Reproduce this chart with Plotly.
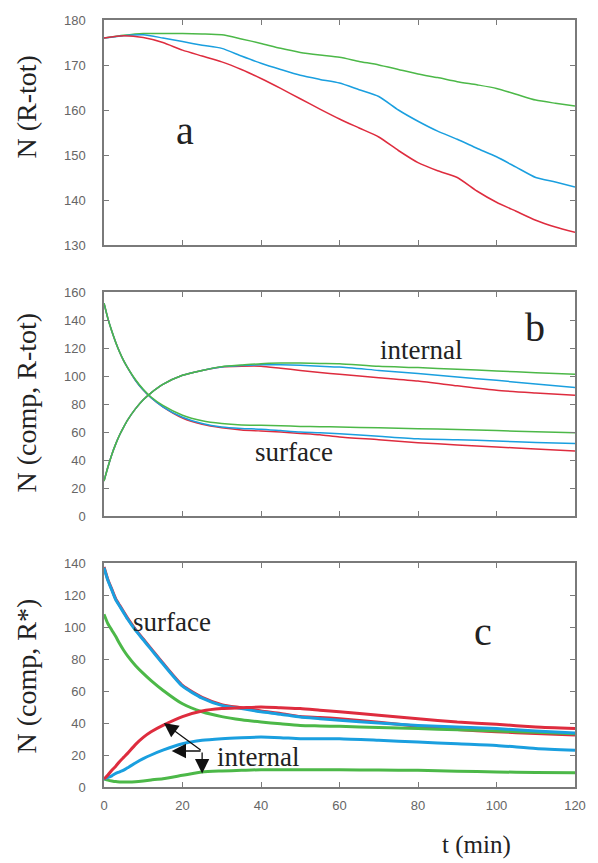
import plotly.graph_objects as go
from plotly.subplots import make_subplots

# ---------------- data ----------------
# panel a : N (R-tot)
t_a = [0, 5, 10, 15, 20, 25, 30, 35, 40, 45, 50, 55, 60, 65, 70, 75, 80, 85, 90, 95, 100, 105, 110, 115, 120]
a_red = [176, 176.5, 176.1, 175, 173.3, 172, 170.7, 169, 167, 164.8, 162.5, 160.2, 158, 156, 154, 151, 148.3, 146.5, 145, 142, 139.5, 137.5, 135.5, 134, 132.8]
a_blue = [176, 176.5, 176.7, 176, 175.2, 174.4, 173.7, 172, 170.4, 169, 167.7, 166.8, 166, 164.5, 163, 160, 157.5, 155.3, 153.5, 151.5, 149.6, 147.3, 145, 144, 142.9]
a_green = [176, 176.6, 177, 177, 177, 176.9, 176.7, 175.8, 174.8, 173.7, 172.8, 172.2, 171.7, 170.8, 170, 169, 168, 167.2, 166.3, 165.6, 164.8, 163.5, 162.2, 161.5, 160.9]

# panel b : N (comp, R-tot)
t_b = [0, 1, 2, 3, 4, 5, 6, 8, 10, 12, 15, 20, 25, 30, 35, 40, 45, 50, 55, 60, 70, 80, 90, 100, 110, 120]
b_surf_red = [152, 141, 132, 124, 117, 111, 106, 97, 90, 84.5, 78, 70, 65.5, 63, 61.5, 60.7, 60, 59, 58, 56.4, 54.5, 52.4, 50.8, 49.3, 47.8, 46.4]
b_surf_blue = [152, 141, 132, 124, 117, 111, 106, 97, 90, 84.5, 78, 70.5, 66, 63.5, 62.5, 62, 61, 60, 59.5, 58.8, 57, 55.2, 54.5, 53.6, 52.5, 51.7]
b_surf_green = [152, 141, 132, 124, 117, 111, 106, 97.5, 90.5, 85, 79, 72, 68, 66, 65, 64.8, 64.5, 64, 63.8, 63.6, 63, 62.4, 61.8, 61, 60.2, 59.5]
b_int_red = [25, 35, 44, 51.5, 58, 63.5, 68.5, 76.5, 83, 88, 94, 100.5, 104, 106.5, 107, 107, 105.5, 104, 102.5, 101.2, 98.8, 96.4, 93, 89.8, 87.9, 86.2]
b_int_blue = [25, 35, 44, 51.5, 58, 63.5, 68.5, 76.5, 83, 88, 94, 100.5, 104, 106.5, 107.5, 108, 108, 107.6, 107, 106.4, 104, 101.7, 99.3, 96.9, 94.3, 91.7]
b_int_green = [25, 35, 44, 51.5, 58, 63.5, 68.5, 76.5, 83, 88, 94, 100.5, 104, 106.7, 107.8, 108.8, 109.2, 109.3, 109, 108.8, 106.9, 106, 104.8, 103.6, 102.4, 101.2]

# panel c : N (comp, R*)
t_c = [0, 1, 2, 3, 4, 5, 6, 8, 10, 12, 15, 20, 25, 30, 35, 40, 45, 50, 55, 60, 70, 80, 90, 100, 110, 120]
c_surf_red = [137.5, 129.5, 123.5, 117.5, 113.5, 109.5, 105.5, 98.5, 92.5, 86.5, 77.5, 63.5, 56, 51.5, 49.5, 47.5, 46, 44, 43.5, 42.7, 40.5, 38, 36, 34.5, 33.5, 32.5]
c_surf_blue = [137, 129, 123, 117, 113, 109, 105, 98, 92, 86, 77, 63, 55.5, 51, 49, 47, 45.5, 43.7, 42.7, 41.7, 40, 38.5, 37.5, 36.5, 35, 33.7]
c_surf_green = [108, 102, 98, 94, 89.5, 85.5, 82, 76, 71, 66.5, 60.5, 52, 47, 44, 42, 40.6, 39.5, 38.5, 38.2, 37.9, 37.2, 36.5, 35.8, 35, 34.2, 33.3]
c_int_red = [5, 7.5, 10.5, 13, 16, 18.5, 21, 26.5, 31, 34.5, 38.5, 44, 47.5, 49, 49.5, 50, 49.5, 49, 48, 47, 44.8, 42.7, 40.6, 39.2, 37.5, 36.5]
c_int_blue = [5, 6, 7, 8.5, 9.5, 10.5, 12, 15, 17.7, 20, 23, 27, 29.2, 30.2, 30.8, 31.2, 30.8, 30.2, 30.2, 30.2, 29.2, 28.1, 27, 26, 24, 22.9]
c_int_green = [5, 4.3, 3.8, 3.4, 3.2, 3.1, 3.1, 3.3, 3.8, 4.4, 5.2, 7.3, 9.4, 10, 10.4, 10.8, 10.8, 10.8, 10.8, 10.8, 10.6, 10.4, 9.9, 9.4, 9.1, 8.9]

x_ticks = [0, 20, 40, 60, 80, 100, 120]
ya_ticks = [130, 140, 150, 160, 170, 180]
yb_ticks = [0, 20, 40, 60, 80, 100, 120, 140, 160]
yc_ticks = [0, 20, 40, 60, 80, 100, 120, 140]

RED = "#de2c3e"
BLUE = "#1a9fdf"
GREEN = "#4cb848"
SERIF = "Liberation Serif, Tinos, Noto Serif, DejaVu Serif, serif"
SANS = "Liberation Sans, Arial, sans-serif"

fig = make_subplots(rows=3, cols=1)

def add(t, y, color, row, width):
    fig.add_trace(go.Scatter(x=t, y=y, mode="lines",
                             line=dict(color=color, width=width, shape="spline", smoothing=0.6),
                             showlegend=False, hoverinfo="skip"), row=row, col=1)

add(t_a, a_green, GREEN, 1, 1.5)
add(t_a, a_blue, BLUE, 1, 1.5)
add(t_a, a_red, RED, 1, 1.5)

for ys, c in [(b_surf_red, RED), (b_int_red, RED), (b_surf_blue, BLUE), (b_int_blue, BLUE),
              (b_surf_green, GREEN), (b_int_green, GREEN)]:
    add(t_b, ys, c, 2, 1.5)

for ys, c in [(c_surf_red, RED), (c_surf_green, GREEN), (c_surf_blue, BLUE),
              (c_int_green, GREEN), (c_int_blue, BLUE), (c_int_red, RED)]:
    add(t_c, ys, c, 3, 3)

# layout geometry (pixels)
L, R, T, B = 104, 14, 20, 76
H = 863 - T - B
def dom(top_px, bot_px):
    return [(787 - bot_px) / H, (787 - top_px) / H]

axis_common = dict(showline=True, linecolor="#7a7a7a", linewidth=1.5, mirror="allticks",
                   ticks="inside", ticklen=5, tickcolor="#7a7a7a", tickwidth=1.2,
                   showgrid=False, zeroline=False,
                   tickfont=dict(family=SANS, size=13, color="#666666"))

fig.update_layout(
    width=598, height=863,
    margin=dict(l=L, r=R, t=T, b=B),
    paper_bgcolor="white", plot_bgcolor="white",
    xaxis=dict(domain=[0, 1], range=[0, 120], tickvals=x_ticks, showticklabels=False, **axis_common),
    xaxis2=dict(domain=[0, 1], range=[0, 120], tickvals=x_ticks, showticklabels=False, **axis_common),
    xaxis3=dict(domain=[0, 1], range=[0, 120], tickvals=x_ticks, ticklabelstandoff=6, **axis_common),
    yaxis=dict(domain=dom(20, 245), range=[130, 180], tickvals=ya_ticks, ticklabelstandoff=14, **axis_common),
    yaxis2=dict(domain=dom(292, 516), range=[0, 160], tickvals=yb_ticks, ticklabelstandoff=14, **axis_common),
    yaxis3=dict(domain=dom(563, 787), range=[0, 140], tickvals=yc_ticks, ticklabelstandoff=14, **axis_common),
)

def px_to_paper(px, py):
    return (px - L) / (598 - L - R), (787 - py) / H

ann = []
# axis titles
for text, px, py in [("N (R-tot)", 25, 107), ("N (comp, R-tot)", 25, 402), ("N (comp, R*)", 25, 676)]:
    x, y = px_to_paper(px, py)
    ann.append(dict(text=text, x=x, y=y, xref="paper", yref="paper", showarrow=False,
                    textangle=-90, font=dict(family=SERIF, size=28, color="#222"),
                    xanchor="center", yanchor="middle"))
x, y = px_to_paper(484, 845)
ann.append(dict(text="t (min)", x=x, y=y, xref="paper", yref="paper", showarrow=False,
                font=dict(family=SERIF, size=25, color="#222"), xanchor="center", yanchor="middle"))

# panel labels
big = dict(family=SERIF, size=40, color="#222")
mid = dict(family=SERIF, size=27, color="#222")
ann += [
    dict(text="a", x=20.75, y=155.5, xref="x", yref="y", showarrow=False, font=big),
    dict(text="b", x=109.75, y=135, xref="x2", yref="y2", showarrow=False, font=big),
    dict(text="internal", x=80.75, y=118.6, xref="x2", yref="y2", showarrow=False, font=mid),
    dict(text="surface", x=48.5, y=45.7, xref="x2", yref="y2", showarrow=False, font=mid),
    dict(text="c", x=96.5, y=97, xref="x3", yref="y3", showarrow=False, font=big),
    dict(text="surface", x=17.25, y=103, xref="x3", yref="y3", showarrow=False, font=mid),
    dict(text="internal", x=28.3, y=18.75, xref="x3", yref="y3", showarrow=False, font=mid, xanchor="left"),
]
# arrows
for hx, hy in [(15.25, 40), (17.25, 22.5), (25, 8.5)]:
    ann.append(dict(text="", x=hx, y=hy, ax=25, ay=22.5, xref="x3", yref="y3",
                    axref="x3", ayref="y3", showarrow=True, arrowhead=2, arrowsize=2.2,
                    arrowwidth=1.3, arrowcolor="#111"))
fig.update_layout(annotations=ann)

fig.write_html("out.html", config={"displayModeBar": False},
               post_script="document.body.style.margin='0';document.body.style.overflow='hidden';")
